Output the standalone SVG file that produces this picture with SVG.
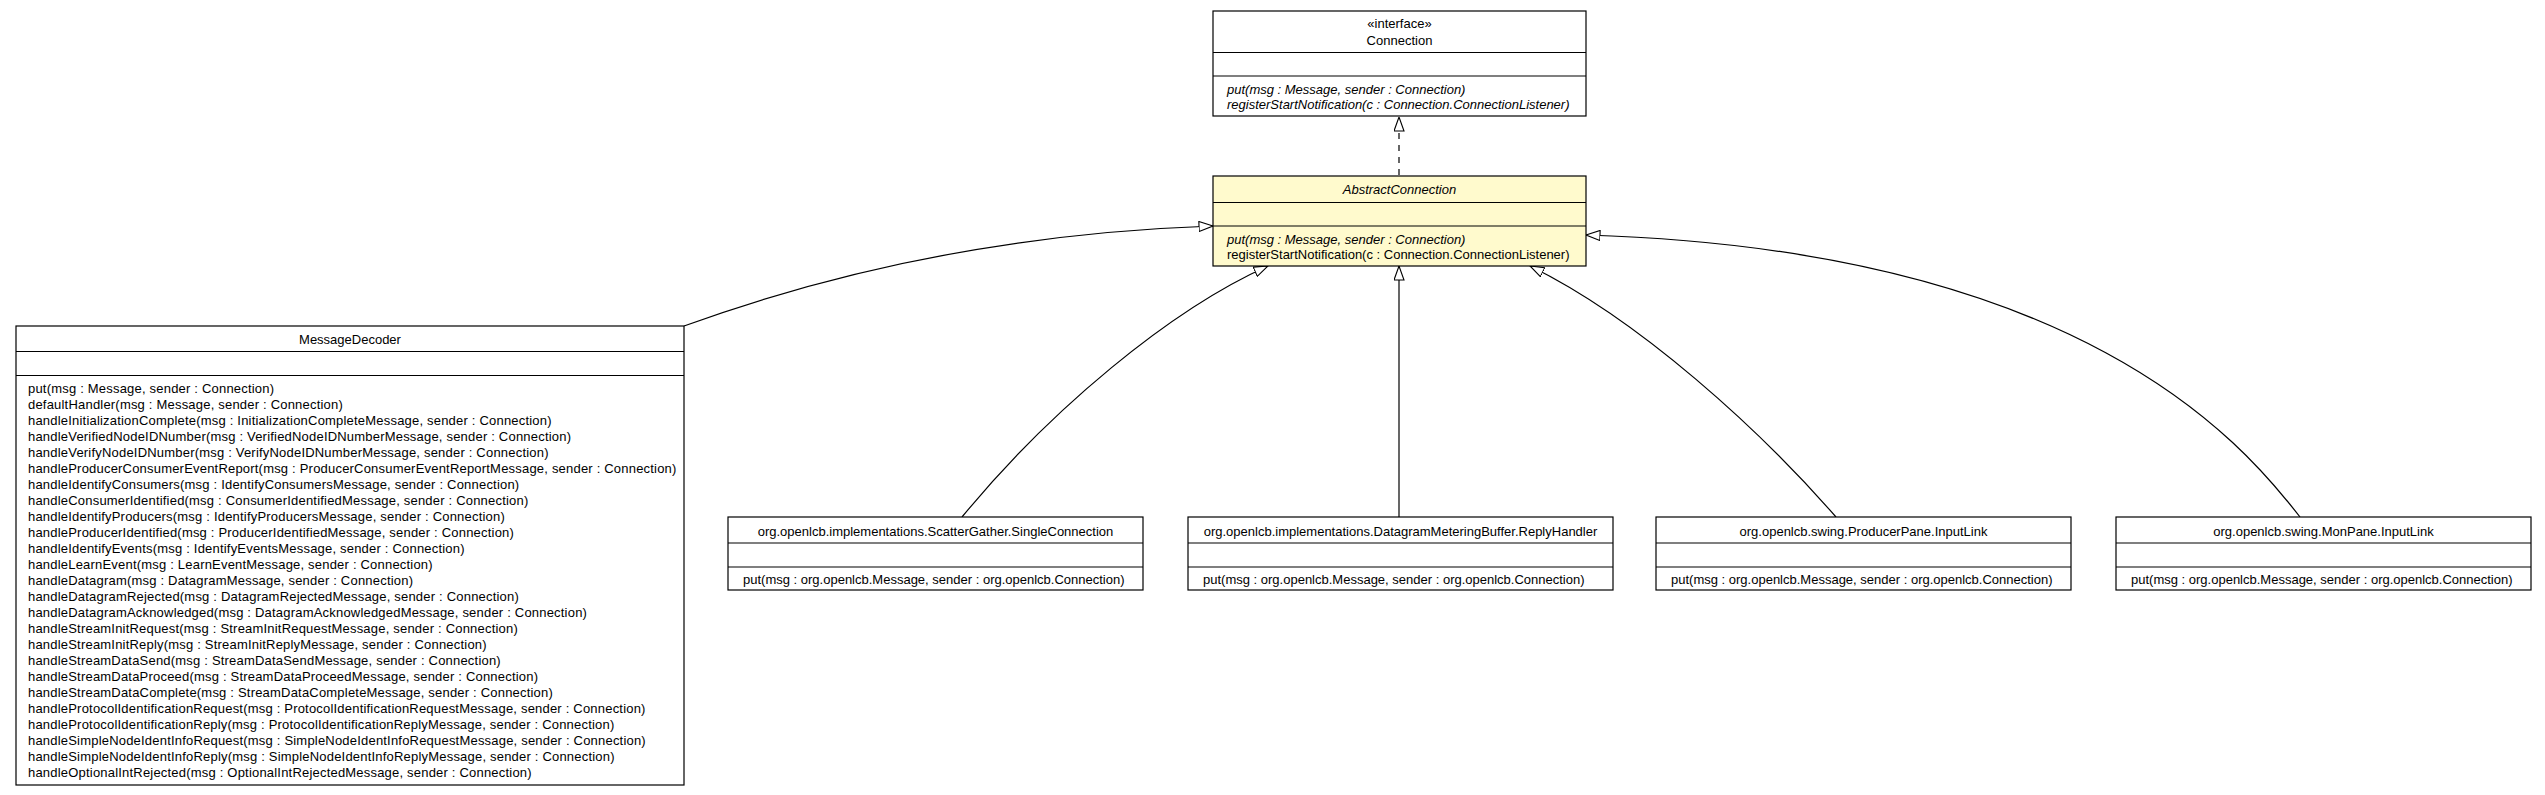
<svg xmlns="http://www.w3.org/2000/svg" width="2545" height="795" viewBox="0 0 2545 795">
<style>
text{font-family:"Liberation Sans",Arial,Helvetica,sans-serif;font-size:13px;fill:#000}
.c{text-anchor:middle}
.i{font-style:italic}
.m{letter-spacing:0.2px}
.box{fill:#fff;stroke:#000;stroke-width:1.2}
.abs{fill:#FFFACD;stroke:#000;stroke-width:1.2}
.sep{stroke:#000;stroke-width:1.2}
.edge{fill:none;stroke:#000;stroke-width:1.2}
</style>
<defs>
<marker id="tri" viewBox="0 0 15 11" refX="14.5" refY="5.5" markerWidth="15" markerHeight="11" markerUnits="userSpaceOnUse" orient="auto">
<path d="M0.5,0.5 L14.5,5.5 L0.5,10.5 Z" fill="#fff" stroke="#000" stroke-width="1.1"/>
</marker>
</defs>
<g id="connectors">
<path class="edge" d="M1399,175 L1399,117" stroke-dasharray="6,6" marker-end="url(#tri)"/>
<path class="edge" d="M684,326 C860,262 1040,232 1213,226" marker-end="url(#tri)"/>
<path class="edge" d="M962,517 C1050,410 1170,310 1268,266" marker-end="url(#tri)"/>
<path class="edge" d="M1399,517 L1399,266" marker-end="url(#tri)"/>
<path class="edge" d="M1836,517 C1760,430 1640,320 1530,266" marker-end="url(#tri)"/>
<path class="edge" d="M2300,517 C2240,440 2080,250 1586,235" marker-end="url(#tri)"/>
</g>
<g id="Connection">
<rect class="box" x="1213" y="11" width="373" height="105"/>
<line class="sep" x1="1213" y1="52.5" x2="1586" y2="52.5"/>
<line class="sep" x1="1213" y1="76" x2="1586" y2="76"/>
<text class="c" x="1399.5" y="28">«interface»</text>
<text class="c" x="1399.5" y="45">Connection</text>
<text class="i" x="1227" y="93.5">put(msg : Message, sender : Connection)</text>
<text class="i" x="1227" y="109">registerStartNotification(c : Connection.ConnectionListener)</text>
</g>
<g id="AbstractConnection">
<rect class="abs" x="1213" y="176" width="373" height="90"/>
<line class="sep" x1="1213" y1="202.5" x2="1586" y2="202.5"/>
<line class="sep" x1="1213" y1="226" x2="1586" y2="226"/>
<text class="c i" x="1399.5" y="194">AbstractConnection</text>
<text class="i" x="1227" y="243.5">put(msg : Message, sender : Connection)</text>
<text x="1227" y="259">registerStartNotification(c : Connection.ConnectionListener)</text>
</g>
<g id="MessageDecoder">
<rect class="box" x="16" y="326" width="668" height="459"/>
<line class="sep" x1="16" y1="351.5" x2="684" y2="351.5"/>
<line class="sep" x1="16" y1="375.5" x2="684" y2="375.5"/>
<text class="c" x="350" y="343.5">MessageDecoder</text>
<text class="m" x="28" y="392.5">put(msg : Message, sender : Connection)</text>
<text class="m" x="28" y="408.5">defaultHandler(msg : Message, sender : Connection)</text>
<text class="m" x="28" y="424.5">handleInitializationComplete(msg : InitializationCompleteMessage, sender : Connection)</text>
<text class="m" x="28" y="440.5">handleVerifiedNodeIDNumber(msg : VerifiedNodeIDNumberMessage, sender : Connection)</text>
<text class="m" x="28" y="456.5">handleVerifyNodeIDNumber(msg : VerifyNodeIDNumberMessage, sender : Connection)</text>
<text class="m" x="28" y="472.5">handleProducerConsumerEventReport(msg : ProducerConsumerEventReportMessage, sender : Connection)</text>
<text class="m" x="28" y="488.5">handleIdentifyConsumers(msg : IdentifyConsumersMessage, sender : Connection)</text>
<text class="m" x="28" y="504.5">handleConsumerIdentified(msg : ConsumerIdentifiedMessage, sender : Connection)</text>
<text class="m" x="28" y="520.5">handleIdentifyProducers(msg : IdentifyProducersMessage, sender : Connection)</text>
<text class="m" x="28" y="536.5">handleProducerIdentified(msg : ProducerIdentifiedMessage, sender : Connection)</text>
<text class="m" x="28" y="552.5">handleIdentifyEvents(msg : IdentifyEventsMessage, sender : Connection)</text>
<text class="m" x="28" y="568.5">handleLearnEvent(msg : LearnEventMessage, sender : Connection)</text>
<text class="m" x="28" y="584.5">handleDatagram(msg : DatagramMessage, sender : Connection)</text>
<text class="m" x="28" y="600.5">handleDatagramRejected(msg : DatagramRejectedMessage, sender : Connection)</text>
<text class="m" x="28" y="616.5">handleDatagramAcknowledged(msg : DatagramAcknowledgedMessage, sender : Connection)</text>
<text class="m" x="28" y="632.5">handleStreamInitRequest(msg : StreamInitRequestMessage, sender : Connection)</text>
<text class="m" x="28" y="648.5">handleStreamInitReply(msg : StreamInitReplyMessage, sender : Connection)</text>
<text class="m" x="28" y="664.5">handleStreamDataSend(msg : StreamDataSendMessage, sender : Connection)</text>
<text class="m" x="28" y="680.5">handleStreamDataProceed(msg : StreamDataProceedMessage, sender : Connection)</text>
<text class="m" x="28" y="696.5">handleStreamDataComplete(msg : StreamDataCompleteMessage, sender : Connection)</text>
<text class="m" x="28" y="712.5">handleProtocolIdentificationRequest(msg : ProtocolIdentificationRequestMessage, sender : Connection)</text>
<text class="m" x="28" y="728.5">handleProtocolIdentificationReply(msg : ProtocolIdentificationReplyMessage, sender : Connection)</text>
<text class="m" x="28" y="744.5">handleSimpleNodeIdentInfoRequest(msg : SimpleNodeIdentInfoRequestMessage, sender : Connection)</text>
<text class="m" x="28" y="760.5">handleSimpleNodeIdentInfoReply(msg : SimpleNodeIdentInfoReplyMessage, sender : Connection)</text>
<text class="m" x="28" y="776.5">handleOptionalIntRejected(msg : OptionalIntRejectedMessage, sender : Connection)</text>
</g>
<g id="SingleConnection">
<rect class="box" x="728" y="517" width="415" height="73"/>
<line class="sep" x1="728" y1="543" x2="1143" y2="543"/>
<line class="sep" x1="728" y1="567" x2="1143" y2="567"/>
<text class="c" x="935.5" y="535.5">org.openlcb.implementations.ScatterGather.SingleConnection</text>
<text x="743" y="584">put(msg : org.openlcb.Message, sender : org.openlcb.Connection)</text>
</g>
<g id="ReplyHandler">
<rect class="box" x="1188" y="517" width="425" height="73"/>
<line class="sep" x1="1188" y1="543" x2="1613" y2="543"/>
<line class="sep" x1="1188" y1="567" x2="1613" y2="567"/>
<text class="c" x="1400.5" y="535.5">org.openlcb.implementations.DatagramMeteringBuffer.ReplyHandler</text>
<text x="1203" y="584">put(msg : org.openlcb.Message, sender : org.openlcb.Connection)</text>
</g>
<g id="ProducerPaneInputLink">
<rect class="box" x="1656" y="517" width="415" height="73"/>
<line class="sep" x1="1656" y1="543" x2="2071" y2="543"/>
<line class="sep" x1="1656" y1="567" x2="2071" y2="567"/>
<text class="c" x="1863.5" y="535.5">org.openlcb.swing.ProducerPane.InputLink</text>
<text x="1671" y="584">put(msg : org.openlcb.Message, sender : org.openlcb.Connection)</text>
</g>
<g id="MonPaneInputLink">
<rect class="box" x="2116" y="517" width="415" height="73"/>
<line class="sep" x1="2116" y1="543" x2="2531" y2="543"/>
<line class="sep" x1="2116" y1="567" x2="2531" y2="567"/>
<text class="c" x="2323.5" y="535.5">org.openlcb.swing.MonPane.InputLink</text>
<text x="2131" y="584">put(msg : org.openlcb.Message, sender : org.openlcb.Connection)</text>
</g>
</svg>
